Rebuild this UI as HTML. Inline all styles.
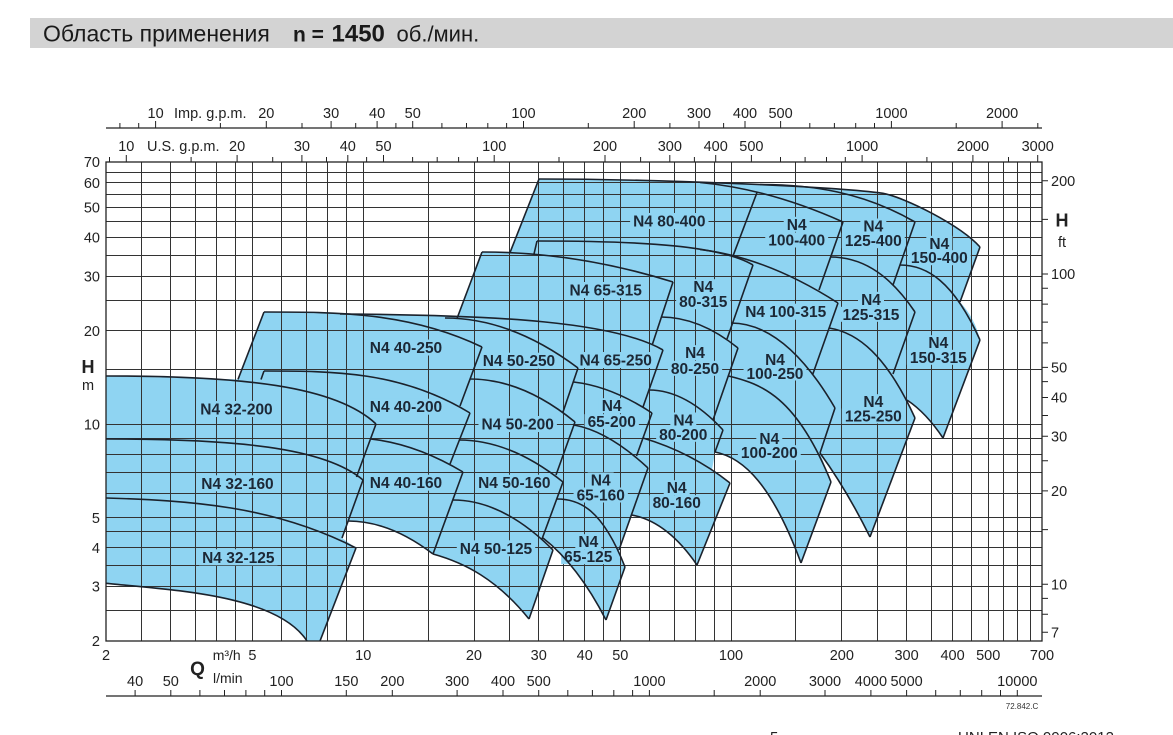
<!DOCTYPE html>
<html><head><meta charset="utf-8"><style>
html,body{margin:0;padding:0;background:#fff;}
svg{display:block;}
text{font-family:"Liberation Sans",Arial,sans-serif;}
.t{font-size:14.5px;fill:#222;}
.l{font-size:15.5px;font-weight:bold;fill:#1c2836;text-anchor:middle;}
.c{fill:none;stroke:#1b222c;stroke-width:1.6;stroke-linejoin:round;}
</style></head><body>
<svg width="1173" height="735" viewBox="0 0 1173 735" xmlns="http://www.w3.org/2000/svg">
<rect width="1173" height="735" fill="#fff"/>
<!-- header -->
<rect x="30" y="18" width="1143" height="30" fill="#d3d3d3"/>
<text x="43" y="41.3" font-size="23" fill="#1a1a1a">Область применения</text>
<text x="293" y="41.3" font-size="21" font-weight="bold" fill="#1a1a1a">n =</text>
<text x="331.5" y="41.3" font-size="24" font-weight="bold" fill="#1a1a1a">1450</text>
<text x="396.5" y="41.3" font-size="22" fill="#1a1a1a">об./мин.</text>

<!-- blue fill -->
<path fill="#8fd4f2" d="M106,376 L238,379.4 L264,312 L340,313.6 L400,314.6 L457,316.5 L482,252 L510,252.6 L539,179 C650,179 830,186 883,193.3 C905,197.5 960,225 980,247 L960,302 Q975,318 980,340 L943,438 C931,420 919,408 907,400 L915,418 L870,537 C853.3,503.3 836.7,476 820,453 L831,482 L801,563 C772.3,485.3 743.7,457.6 715,452 L712,470 L730,483 L697,565 C675.7,534 654.3,519 631.5,515 L619,550 L625,567 L606,620 C585,579 564,554.4 543,538 L553,550 L529,619 C497,579.4 465,562.9 433,554 C404.3,532 375.7,521 348,521 L342,538 L356,548 L320,641 L307,641 C276.9,594.7 173,590.1 106,583.3 Z"/>

<!-- grid -->
<path fill="none" stroke="#333" stroke-width="1" d="
M141.5,162V641 M170.5,162V641 M195.5,162V641 M216.5,162V641 M235.5,162V641 M252.5,162V641 M281.5,162V641 M306.5,162V641 M327.5,162V641 M346.5,162V641 M363.5,162V641 M428.5,162V641 M474.5,162V641 M509.5,162V641 M538.5,162V641 M563.5,162V641 M584.5,162V641 M603.5,162V641 M620.5,162V641 M649.5,162V641 M674.5,162V641 M695.5,162V641 M714.5,162V641 M731.5,162V641 M795.5,162V641 M841.5,162V641 M877.5,162V641 M906.5,162V641 M931.5,162V641 M952.5,162V641 M971.5,162V641 M988.5,162V641 M1003.5,162V641 M1017.5,162V641 M1030.5,162V641
M106,610.5H1042 M106,586.5H1042 M106,565.5H1042 M106,547.5H1042 M106,531.5H1042 M106,517.5H1042 M106,493.5H1042 M106,472.5H1042 M106,454.5H1042 M106,438.5H1042 M106,424.5H1042 M106,369.5H1042 M106,330.5H1042 M106,300.5H1042 M106,276.5H1042 M106,255.5H1042 M106,237.5H1042 M106,221.5H1042 M106,207.5H1042 M106,194.5H1042 M106,182.5H1042 M106,172.5H1042"/>
<rect x="106" y="162" width="936" height="479" fill="none" stroke="#222" stroke-width="1.3"/>

<!-- label backgrounds -->
<g fill="#8fd4f2">
<rect x="197.3" y="401" width="78.4" height="16"/>
<rect x="198.3" y="475.3" width="78.4" height="16"/>
<rect x="199.1" y="549.3" width="78.4" height="16"/>
<rect x="366.8" y="339.5" width="78.4" height="16"/>
<rect x="366.8" y="398.7" width="78.4" height="16"/>
<rect x="366.8" y="474.7" width="78.4" height="16"/>
<rect x="479.8" y="352.7" width="78.4" height="16"/>
<rect x="478.5" y="416" width="78.4" height="16"/>
<rect x="475.1" y="474.7" width="78.4" height="16"/>
<rect x="456.8" y="540.3" width="78.4" height="16"/>
<rect x="566.5" y="282" width="78.4" height="16"/>
<rect x="576.5" y="352" width="78.4" height="16"/>
<rect x="630.1" y="213" width="78.4" height="16"/>
<rect x="742.2" y="303.7" width="87" height="16"/>
<rect x="598.7" y="398.2" width="26" height="15"/><rect x="584.55" y="414.2" width="54.3" height="15"/>
<rect x="587.7" y="472.5" width="26" height="15"/><rect x="573.55" y="487.5" width="54.3" height="15"/>
<rect x="575.3" y="534.2" width="26" height="15"/><rect x="561.15" y="549.2" width="54.3" height="15"/>
<rect x="690.3" y="279.2" width="26" height="15"/><rect x="676.15" y="294.2" width="54.3" height="15"/>
<rect x="682" y="345.2" width="26" height="15"/><rect x="667.85" y="360.8" width="54.3" height="15"/>
<rect x="670.3" y="412.5" width="26" height="15"/><rect x="656.15" y="426.8" width="54.3" height="15"/>
<rect x="663.7" y="480.2" width="26" height="15"/><rect x="649.55" y="495.2" width="54.3" height="15"/>
<rect x="783.7" y="216.8" width="26" height="15"/><rect x="765.25" y="232.5" width="62.9" height="15"/>
<rect x="860.3" y="218.5" width="26" height="15"/><rect x="841.85" y="233.2" width="62.9" height="15"/>
<rect x="926.3" y="235.8" width="26" height="15"/><rect x="907.85" y="250.2" width="62.9" height="15"/>
<rect x="858" y="291.8" width="26" height="15"/><rect x="839.55" y="306.8" width="62.9" height="15"/>
<rect x="925.3" y="335.2" width="26" height="15"/><rect x="906.85" y="349.8" width="62.9" height="15"/>
<rect x="762" y="352.5" width="26" height="14"/><rect x="743.55" y="366.5" width="62.9" height="14"/>
<rect x="860.3" y="394.2" width="26" height="15"/><rect x="841.85" y="408.5" width="62.9" height="15"/>
<rect x="756.3" y="430.8" width="26" height="15"/><rect x="737.85" y="445.2" width="62.9" height="15"/>
</g>

<!-- curves -->
<g class="c">
<path d="M106,376 C241,376 335.5,385.6 376,424"/>
<path d="M376,424 L356.5,477"/>
<path d="M106,439 C234.5,439 324.5,447.2 363,480"/>
<path d="M363,480 L342,538"/>
<path d="M106,498 C189.3,500.5 272.7,505.5 356,548"/>
<path d="M356,548 L320,641"/>
<path d="M106,583.3 C173,590.1 276.9,594.7 307,641"/>
<path d="M264,312 L238,379.4"/>
<path d="M264,312 C336.7,312 409.3,312 482,347"/>
<path d="M482,347 L460,406"/>
<path d="M264,371 L261,379.5"/>
<path d="M264,371 C332.7,371 401.3,371 470,413"/>
<path d="M470,413 L450,464"/>
<path d="M370.5,439 C402.3,442.3 432.7,453.9 463,472"/>
<path d="M463,472 L433,554"/>
<path d="M348,521 C375.7,521 404.3,532 433,554"/>
<path d="M482,252 L457,318.5"/>
<path d="M482,252 C545.7,252 609.3,262 673,282"/>
<path d="M673,282 L652.5,344"/>
<path d="M340,314 C501.5,315 614.6,322 663,350"/>
<path d="M663,350 L643,407"/>
<path d="M445,318 C489.3,318 533.7,334.7 578,368"/>
<path d="M578,368 L563,412"/>
<path d="M470,379 C505,379 540,393.3 575,422"/>
<path d="M575,422 L556,475"/>
<path d="M459,440 C493,440 528,454 563,482"/>
<path d="M563,482 L542,539"/>
<path d="M453,500 C486.3,500 519.7,516.7 553,550"/>
<path d="M553,550 L529,619"/>
<path d="M433,554 C465,562.9 497,579.4 529,619"/>
<path d="M573.5,382 C600.7,385.1 626.3,396 652,413"/>
<path d="M652,413 L636.5,456"/>
<path d="M574,425 C597.3,429.3 622.7,444.4 648,468"/>
<path d="M648,468 L619,550"/>
<path d="M557,499 C579.7,499 602.3,509.2 625,567"/>
<path d="M625,567 L606,620"/>
<path d="M543,538 C564,554.4 585,579 606,620"/>
<path d="M539,179 L510,252.6"/>
<path d="M539,179 C650,179 830,186 883,193.3 C905,197.5 960,225 980,247"/>
<path d="M757,192.5 L733,256"/>
<path d="M537,241 L534,254"/>
<path d="M537,241 C645,241 720.6,245.8 753,265"/>
<path d="M753,265 L727,339"/>
<path d="M700,182.5 C747.7,186.9 795.3,200.6 843,222"/>
<path d="M843,222 L819,290"/>
<path d="M760,184.5 C811.7,184.5 863.3,192 915,222"/>
<path d="M915,222 L893,285"/>
<path d="M980,247 L960,302"/>
<path d="M700,249.5 C746,254.9 792,273.5 838,303"/>
<path d="M838,303 L812.5,375"/>
<path d="M830,257 C858.3,257 886.7,270 915,312"/>
<path d="M915,312 L893,374"/>
<path d="M900,265 C926.7,265 953.3,281 980,340"/>
<path d="M980,340 L943,438"/>
<path d="M661,317 C686.7,317 712.3,327.3 738,348"/>
<path d="M738,348 L713,420"/>
<path d="M731,323 C765.7,323 800.3,348.5 835,408"/>
<path d="M835,408 L820,453"/>
<path d="M829,328 C857.7,332.5 886.3,355 915,418"/>
<path d="M915,418 L870,537"/>
<path d="M820,453 C836.7,476 853.3,503.3 870,537"/>
<path d="M907,400 C919,408 931,420 943,438"/>
<path d="M649,390 C673.7,390 698.3,403.3 723,430"/>
<path d="M723,430 L715,452"/>
<path d="M728.5,376 C761.7,384 796.3,396.4 831,482"/>
<path d="M831,482 L801,563"/>
<path d="M715,452 C743.7,457.6 772.3,485.3 801,563"/>
<path d="M643,438 C673.3,447 701.7,460.5 730,483"/>
<path d="M730,483 L697,565"/>
<path d="M631.5,515 C654.3,519 675.7,534 697,565"/>
</g>

<!-- pump labels -->
<g class="l">
<text x="236.5" y="414.5">N4 32-200</text>
<text x="237.5" y="488.8">N4 32-160</text>
<text x="238.3" y="562.8">N4 32-125</text>
<text x="406" y="353">N4 40-250</text>
<text x="406" y="412.2">N4 40-200</text>
<text x="406" y="488.2">N4 40-160</text>
<text x="519" y="366.2">N4 50-250</text>
<text x="517.7" y="429.5">N4 50-200</text>
<text x="514.3" y="488.2">N4 50-160</text>
<text x="496" y="553.8">N4 50-125</text>
<text x="605.7" y="295.5">N4 65-315</text>
<text x="615.7" y="365.5">N4 65-250</text>
<text x="669.3" y="226.5">N4 80-400</text>
<text x="785.7" y="317.2">N4 100-315</text>
<text x="611.7" y="411.2">N4</text><text x="611.7" y="427.2">65-200</text>
<text x="600.7" y="485.5">N4</text><text x="600.7" y="500.5">65-160</text>
<text x="588.3" y="547.2">N4</text><text x="588.3" y="562.2">65-125</text>
<text x="703.3" y="292.2">N4</text><text x="703.3" y="307.2">80-315</text>
<text x="695" y="358.2">N4</text><text x="695" y="373.8">80-250</text>
<text x="683.3" y="425.5">N4</text><text x="683.3" y="439.8">80-200</text>
<text x="676.7" y="493.2">N4</text><text x="676.7" y="508.2">80-160</text>
<text x="796.7" y="229.8">N4</text><text x="796.7" y="245.5">100-400</text>
<text x="873.3" y="231.5">N4</text><text x="873.3" y="246.2">125-400</text>
<text x="939.3" y="248.8">N4</text><text x="939.3" y="263.2">150-400</text>
<text x="871" y="304.8">N4</text><text x="871" y="319.8">125-315</text>
<text x="938.3" y="348.2">N4</text><text x="938.3" y="362.8">150-315</text>
<text x="775" y="365.2">N4</text><text x="775" y="379">100-250</text>
<text x="873.3" y="407.2">N4</text><text x="873.3" y="421.5">125-250</text>
<text x="769.3" y="443.8">N4</text><text x="769.3" y="458.2">100-200</text>
</g>

<!-- top axes -->
<path fill="none" stroke="#222" stroke-width="1.2" d="M106,128H1042 M106,696H1042"/>
<path fill="none" stroke="#222" stroke-width="1" d="
M119.9,128v-5 M138.7,128v-5 M155.6,128v-7 M220.4,128v-5 M266.3,128v-7 M302,128v-5 M331.1,128v-7 M355.7,128v-5 M377.1,128v-7 M395.9,128v-5 M412.7,128v-7 M441.9,128v-5 M466.5,128v-5 M487.8,128v-5 M506.6,128v-5 M523.5,128v-7 M588.3,128v-5 M634.2,128v-7 M669.9,128v-5 M699,128v-7 M723.6,128v-5 M745,128v-7 M780.6,128v-7 M809.8,128v-5 M834.4,128v-5 M855.7,128v-5 M874.5,128v-5 M891.4,128v-7 M956.2,128v-5 M1002.1,128v-7 M1037.8,128v-5
M109.5,162v-5 M126.3,162v-7 M191.1,162v-5 M237.1,162v-7 M272.7,162v-5 M301.9,162v-7 M326.5,162v-5 M347.8,162v-7 M366.6,162v-5 M383.5,162v-7 M412.6,162v-5 M437.2,162v-5 M458.6,162v-5 M477.4,162v-5 M494.2,162v-7 M559,162v-5 M605,162v-7 M640.6,162v-5 M669.8,162v-7 M694.4,162v-5 M715.7,162v-7 M751.4,162v-7 M780.5,162v-5 M805.1,162v-5 M826.5,162v-5 M845.3,162v-5 M862.1,162v-7 M926.9,162v-5 M972.9,162v-7 M1008.5,162v-5 M1037.7,162v-7
M135.1,696v-6 M170.8,696v-6 M199.9,696v-6 M224.5,696v-6 M245.9,696v-6 M264.7,696v-6 M281.5,696v-6 M346.3,696v-6 M392.3,696v-6 M457.1,696v-6 M503,696v-6 M538.7,696v-6 M567.8,696v-6 M592.4,696v-6 M613.8,696v-6 M632.6,696v-6 M649.4,696v-6 M714.2,696v-6 M760.2,696v-6 M825,696v-6 M870.9,696v-6 M906.6,696v-6 M935.7,696v-6 M960.3,696v-6 M981.7,696v-6 M1000.5,696v-6 M1017.3,696v-6
M1042,180.7h6 M1042,219.4h6 M1042,274h6 M1042,288.2h6 M1042,304.1h6 M1042,322.1h6 M1042,342.9h6 M1042,367.4h6 M1042,381.6h6 M1042,397.5h6 M1042,415.5h6 M1042,436.2h6 M1042,460.8h6 M1042,490.9h6 M1042,529.6h6 M1042,584.2h6 M1042,598.4h6 M1042,614.3h6 M1042,632.3h6"/>

<g class="t" text-anchor="middle">
<text x="155.6" y="118">10</text><text x="266.3" y="118">20</text><text x="331.1" y="118">30</text><text x="377.1" y="118">40</text><text x="412.7" y="118">50</text><text x="523.5" y="118">100</text><text x="634.2" y="118">200</text><text x="699" y="118">300</text><text x="745" y="118">400</text><text x="780.6" y="118">500</text><text x="891.4" y="118">1000</text><text x="1002.1" y="118">2000</text>
<text x="126.3" y="151">10</text><text x="237.1" y="151">20</text><text x="301.9" y="151">30</text><text x="347.8" y="151">40</text><text x="383.5" y="151">50</text><text x="494.2" y="151">100</text><text x="605" y="151">200</text><text x="669.8" y="151">300</text><text x="715.7" y="151">400</text><text x="751.4" y="151">500</text><text x="862.1" y="151">1000</text><text x="972.9" y="151">2000</text><text x="1037.7" y="151">3000</text>
<text x="106" y="660">2</text><text x="252.4" y="660">5</text><text x="363.2" y="660">10</text><text x="473.9" y="660">20</text><text x="538.7" y="660">30</text><text x="584.7" y="660">40</text><text x="620.3" y="660">50</text><text x="731" y="660">100</text><text x="841.8" y="660">200</text><text x="906.6" y="660">300</text><text x="952.6" y="660">400</text><text x="988.2" y="660">500</text><text x="1042" y="660">700</text>
<text x="135.1" y="686">40</text><text x="170.8" y="686">50</text><text x="281.5" y="686">100</text><text x="346.3" y="686">150</text><text x="392.3" y="686">200</text><text x="457.1" y="686">300</text><text x="503" y="686">400</text><text x="538.7" y="686">500</text><text x="649.4" y="686">1000</text><text x="760.2" y="686">2000</text><text x="825" y="686">3000</text><text x="870.9" y="686">4000</text><text x="906.6" y="686">5000</text><text x="1017.3" y="686">10000</text>
</g>
<text class="t" x="174" y="118">Imp. g.p.m.</text>
<text class="t" x="147" y="151">U.S. g.p.m.</text>

<g class="t" text-anchor="end">
<text x="100" y="167.2">70</text><text x="100" y="188">60</text><text x="100" y="212.6">50</text><text x="100" y="242.6">40</text><text x="100" y="281.4">30</text><text x="100" y="336">20</text><text x="100" y="429.4">10</text><text x="100" y="522.8">5</text><text x="100" y="552.8">4</text><text x="100" y="591.6">3</text><text x="100" y="646.2">2</text>
</g>
<text x="88" y="373" font-size="18" font-weight="bold" fill="#222" text-anchor="middle">H</text>
<text x="88" y="390" font-size="14.5" fill="#222" text-anchor="middle">m</text>

<g class="t">
<text x="1051" y="185.9">200</text><text x="1051" y="279.2">100</text><text x="1051" y="372.6">50</text><text x="1051" y="402.7">40</text><text x="1051" y="441.4">30</text><text x="1051" y="496.1">20</text><text x="1051" y="589.4">10</text><text x="1051" y="637.5">7</text>
</g>
<text x="1062" y="226.5" font-size="18" font-weight="bold" fill="#222" text-anchor="middle">H</text>
<text x="1062" y="247" font-size="14.5" fill="#222" text-anchor="middle">ft</text>

<text x="197.5" y="675" font-size="19" font-weight="bold" fill="#222" text-anchor="middle">Q</text>
<text x="212.7" y="660" font-size="14" fill="#222">m³/h</text>
<text x="213" y="683" font-size="14" fill="#222">l/min</text>

<text x="1022" y="709" font-size="8" fill="#333" text-anchor="middle">72.842.C</text>
<text x="770" y="742" font-size="15" fill="#222">5</text>
<text x="958" y="742" font-size="15" fill="#222">UNI EN ISO 9906:2012</text>
</svg>
</body></html>
